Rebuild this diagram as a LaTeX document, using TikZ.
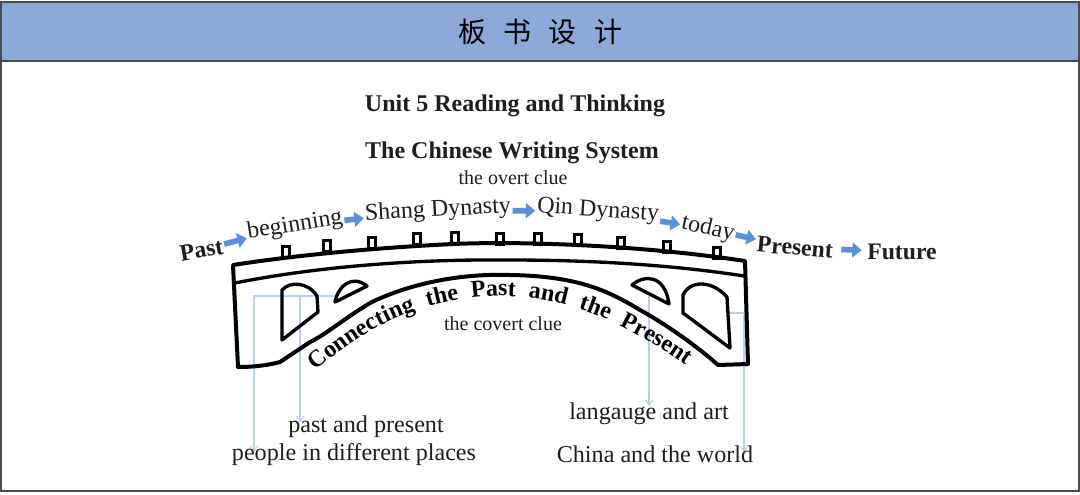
\documentclass[tikz,border=0pt]{standalone}
\usepackage{fontspec}
\setmainfont{Liberation Serif}
\newfontfamily\cjk{Noto Sans CJK SC}
\usetikzlibrary{decorations.text,arrows.meta}
\definecolor{headblue}{HTML}{8CA9DA}
\definecolor{arrowblue}{HTML}{5B8FD9}
\definecolor{thinblue}{HTML}{B9CFEE}
\definecolor{ink}{HTML}{1E1E1E}
\tikzset{
  x=0.75pt,y=-0.75pt,
  bridge/.style={draw=black,line width=3pt,line join=round,line cap=round},
  bridgethin/.style={draw=black,line width=2.5pt,line join=round,line cap=round},
  crenel/.style={draw=black,line width=1.9pt,minimum width=5.5pt,minimum height=8pt,inner sep=0pt,fill=white},
  title/.style={font=\fontsize{18pt}{20pt}\selectfont\bfseries,text=ink,inner sep=0pt},
  word/.style={font=\fontsize{18pt}{20pt}\selectfont,text=ink,inner sep=1pt},
  boldword/.style={font=\fontsize{17.8pt}{20pt}\selectfont\bfseries,text=ink,inner sep=1pt},
  clue/.style={font=\fontsize{15pt}{17pt}\selectfont,text=ink,inner sep=0pt},
  label/.style={font=\fontsize{18.1pt}{20pt}\selectfont,text=ink,inner sep=0pt},
  flow/.style={draw=arrowblue,line width=4.2pt,-{Triangle[length=7pt,width=11pt]}},
  leader/.style={draw=thinblue,line width=0.8pt,-{Straight Barb[length=4pt,width=6pt]}},
}
\begin{document}
\begin{tikzpicture}
\useasboundingbox (0,0) rectangle (1080,494);
\fill[white] (0,0) rectangle (1080,494);
\draw[draw=black!70,fill=headblue,line width=1pt] (1,2) rectangle (1079,61);
\draw[draw=black!70,line width=1pt] (1,61) -- (1,491) -- (1079,491) -- (1079,61);
\node[font=\cjk\fontsize{21pt}{24pt}\selectfont,inner sep=0pt] (head) at (540,32) {板\hspace{13pt}书\hspace{13pt}设\hspace{13pt}计};

\node[title] (t1) at (515,105.5) {Unit 5 Reading and Thinking};
\node[title] (t2) at (512,152.5) {The Chinese Writing System};
\node[clue] (overt) at (513,178) {the overt clue};
\node[clue] (covert) at (503,324) {the covert clue};

% thin leaders (under the bridge)
\coordinate (la) at (335,296);
\coordinate (lb) at (254,296);
\coordinate (lc) at (254,452);
\coordinate (ld) at (300,296);
\coordinate (le) at (300,422);
\coordinate (lf) at (649,296);
\coordinate (lg) at (649,406);
\coordinate (lh) at (728,313);
\coordinate (li) at (744,313);
\coordinate (lj) at (744,452);
\draw[leader] (la) -- (lb) -- (lc);
\draw[leader] (ld) -- (le);
\draw[leader] (lf) -- (lg);
\draw[leader] (lh) -- (li) -- (lj);

% crenellations
\foreach \n/\x/\y in {1/286/252,2/327/246,3/372/243,4/417/239,5/455/238,6/500/239,7/538/239,8/578/240,9/621/243,10/667/247,11/717/253}
  \node[crenel] (c\n) at (\x,\y) {};

% bridge outline
\draw[bridge]
  (238,367) -- (233,265)
  .. controls (290,256) and (370,248) .. (453,244)
  .. controls (520,241) and (640,245) .. (745,261)
  -- (748,364) -- (718,365)
  .. controls (690,340) and (655,318) .. (640,310)
  .. controls (610,292) and (580,276) .. (510,275)
  .. controls (450,273) and (400,288) .. (370,303)
  .. controls (345,318) and (325,335) .. (310,342)
  -- (280,362) .. controls (265,366) and (250,367) .. (238,367);
\draw[bridgethin] (235,283) .. controls (320,266) and (420,259) .. (510,260)
  .. controls (600,260) and (680,266) .. (744,276);

% windows
\draw[bridgethin] (282,340) -- (282,290) .. controls (290,281) and (308,282) .. (317,296) -- (318,312) -- cycle;
\draw[bridgethin] (335,302) .. controls (338,286) and (352,274) .. (367,286) -- cycle;
\draw[bridgethin] (632,285) .. controls (645,274) and (665,275) .. (669,304) -- cycle;
\draw[bridgethin] (683,313) -- (683,295) .. controls (690,280) and (712,280) .. (727,297) -- (730,348) -- cycle;

% overt clue
\node[boldword,rotate=10] (past) at (201.5,250) {Past};
\node[word,rotate=9] (beg) at (295,225.5) {beginning};
\node[word,rotate=3] (shang) at (438,210.5) {Shang Dynasty};
\node[word,rotate=-4] (qin) at (598,211) {Qin Dynasty};
\node[word,rotate=-13] (today) at (708,229) {today};
\node[boldword,rotate=-5] (present) at (795,247.5) {Present};
\node[boldword] (future) at (902,252) {Future};
\draw[flow] (past) -- (beg);
\draw[flow] (beg) -- (shang);
\draw[flow] (shang) -- (qin);
\draw[flow] (qin) -- (today);
\draw[flow] (today) -- (present);
\draw[flow,shorten <=5pt,shorten >=3pt] (present) -- (future);

% curved text
\path[decorate,decoration={text along path,text align={fit to path stretching spaces},
  text={|\fontsize{18pt}{20pt}\selectfont\bfseries|Connecting the Past and the Present}}]
  (316,371) .. controls (372,321) and (430,298) .. (500,296)
  .. controls (570,296) and (628,325) .. (686,365);

% lower labels
\node[label] (l1) at (366,427) {past and present};
\node[label] (l2) at (354,455) {people in different places};
\node[label] (l3) at (649,414) {langauge and art};
\node[label] (l4) at (655,454) {China and the world};
\end{tikzpicture}
\end{document}
